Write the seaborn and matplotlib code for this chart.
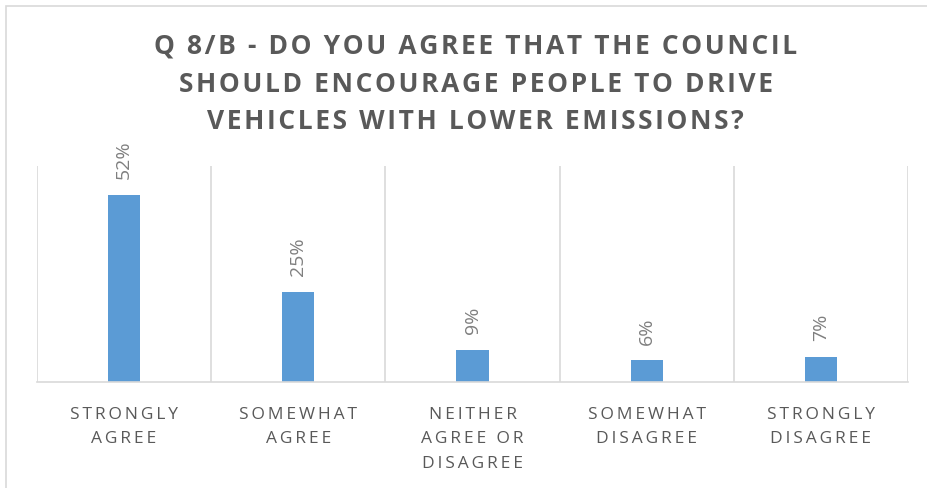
import matplotlib
matplotlib.use("Agg")
import matplotlib.pyplot as plt
import seaborn as sns
import pandas as pd
from matplotlib.patches import Rectangle

categories = ["STRONGLY\nAGREE", "SOMEWHAT\nAGREE", "NEITHER\nAGREE OR\nDISAGREE",
              "SOMEWHAT\nDISAGREE", "STRONGLY\nDISAGREE"]
values = [52, 25, 9, 6, 7]
value_labels = ["52%", "25%", "9%", "6%", "7%"]
title = "Q 8/B - DO YOU AGREE THAT THE COUNCIL\nSHOULD ENCOURAGE PEOPLE TO DRIVE\nVEHICLES WITH LOWER EMISSIONS?"

sns.set_theme(style="white")
plt.rcParams['font.family'] = ['Open Sans', 'DejaVu Sans']

def spaced(s, sp="\u200a"):
    return "\n".join(sp.join(list(line)) for line in s.split("\n"))

df = pd.DataFrame({"cat": categories, "val": values})

fig = plt.figure(figsize=(9.27, 4.89), dpi=100)
ax = fig.add_axes([37/927, 1-383/489, (908-37)/927, (383-167)/489])

sns.barplot(data=df, x="cat", y="val", color="#5b9bd5", width=0.185,
            saturation=1, ax=ax, edgecolor="none")

ax.set_ylim(0, 60)
ax.set_xlim(-0.5, len(categories) - 0.5)
ax.set_yticks([])
ax.set_ylabel("")
ax.set_xlabel("")
for s in ["top", "right", "left"]:
    ax.spines[s].set_visible(False)
ax.spines["bottom"].set_color("#d9d9d9")
ax.spines["bottom"].set_linewidth(1.2)

for i in range(len(categories) + 1):
    ax.axvline(i - 0.5, color="#d9d9d9", lw=1.2, zorder=0)

ax.set_xticks(range(len(categories)))
ax.set_xticklabels([spaced(c, "\u2009") for c in categories], fontsize=12.5,
                   color="#595959", linespacing=1.72)
ax.tick_params(axis="x", length=0, pad=17)

ax.bar_label(ax.containers[0], labels=value_labels, rotation=90, padding=12,
             fontsize=14, color="#7f7f7f")

fig.text(0.513, 1-84/489, spaced(title), ha="center", va="center",
         fontsize=19, fontweight="bold", color="#595959", linespacing=1.5)

fig.patches.append(Rectangle((6/927, -0.1), 1.2, 1-7/489+0.1,
                             transform=fig.transFigure, fill=False,
                             edgecolor="#d9d9d9", lw=1.2))

fig.savefig("out.png", dpi=100)
